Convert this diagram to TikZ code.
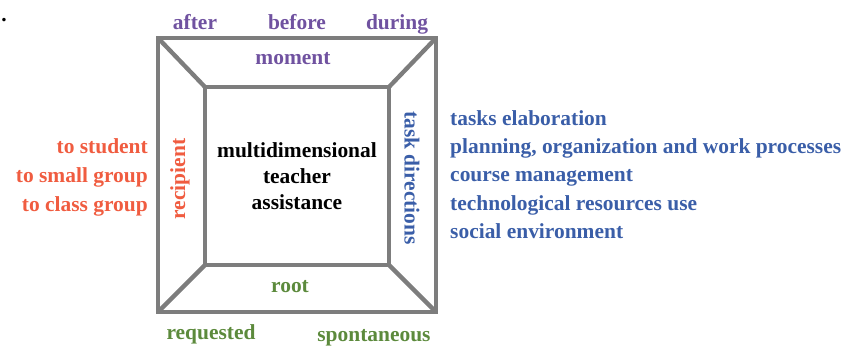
\documentclass[tikz,border=0pt]{standalone}
\usepackage{fontspec}
\setmainfont{Liberation Serif}
\usepackage{xcolor}
\usetikzlibrary{calc}
\definecolor{mompurple}{RGB}{112,82,160}
\definecolor{recred}{RGB}{240,92,64}
\definecolor{taskblue}{RGB}{58,94,168}
\definecolor{rootgreen}{RGB}{92,138,60}
\definecolor{framegray}{RGB}{125,125,125}
\tikzset{
    every node/.style={font=\fontsize{18.3}{22}\selectfont\bfseries, inner sep=0pt},
    frameline/.style={draw=framegray, line width=1.3mm, line join=miter},
    momtxt/.style={text=mompurple},
    rectxt/.style={text=recred},
    tasktxt/.style={text=taskblue},
    roottxt/.style={text=rootgreen}
}

\begin{document}
\begin{tikzpicture}[x=0.03cm, y=-0.03cm]
    \useasboundingbox (0,0) rectangle (858,347);
    \node (dot) at (4,20) {.};
    % outer and inner frame
    \coordinate (otl) at (158,38);
    \coordinate (otr) at (436,38);
    \coordinate (obr) at (436,312);
    \coordinate (obl) at (158,312);
    \coordinate (itl) at (205,87);
    \coordinate (itr) at (389,87);
    \coordinate (ibr) at (389,265);
    \coordinate (ibl) at (205,265);
    \draw[frameline] (otl) -- (otr) -- (obr) -- (obl) -- cycle;
    \draw[frameline] (itl) -- (itr) -- (ibr) -- (ibl) -- cycle;
    \draw[frameline] (otl) -- (itl);
    \draw[frameline] (otr) -- (itr);
    \draw[frameline] (obr) -- (ibr);
    \draw[frameline] (obl) -- (ibl);
    % moment
    \node[momtxt, anchor=base] (after) at (195,30) {after};
    \node[momtxt, anchor=base] (before) at (297,30) {before};
    \node[momtxt, anchor=base] (during) at (397,30) {during};
    \node[momtxt, anchor=base] (moment) at (293,65) {moment};
    % centre
    \node[align=center] (mta) at (297,176) {multidimensional\\teacher\\assistance};
    % recipient
    \node[rectxt, rotate=90] (recipient) at (180,179) {recipient};
    \node[rectxt, anchor=base east] (student) at (148,154) {to student};
    \node[rectxt, anchor=base east] (small) at (148,183) {to small group};
    \node[rectxt, anchor=base east] (class) at (148,212) {to class group};
    % task directions
    \node[tasktxt, rotate=-90] (taskdir) at (412,178) {task directions};
    \node[tasktxt, anchor=base west] (elab) at (450,126) {tasks elaboration};
    \node[tasktxt, anchor=base west] (plan) at (450,154) {planning, organization and work processes};
    \node[tasktxt, anchor=base west] (course) at (450,182) {course management};
    \node[tasktxt, anchor=base west] (techno) at (450,211) {technological resources use};
    \node[tasktxt, anchor=base west] (social) at (450,239) {social environment};
    % root
    \node[roottxt, anchor=base] (root) at (290,293) {root};
    \node[roottxt, anchor=base] (requested) at (211,340) {requested};
    \node[roottxt, anchor=base] (spont) at (374,342) {spontaneous};
\end{tikzpicture}
\end{document}
